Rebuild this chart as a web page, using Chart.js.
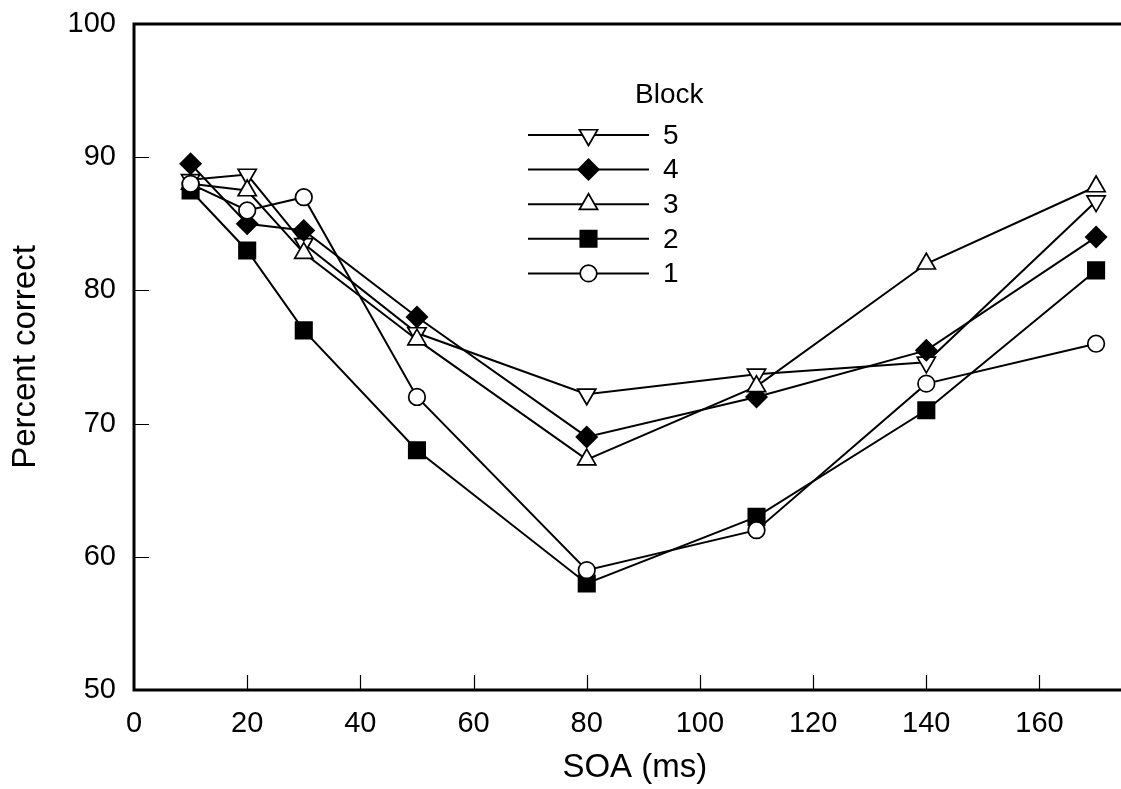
<!DOCTYPE html>
<html>
<head>
<meta charset="utf-8">
<script src="https://cdn.jsdelivr.net/npm/chart.js@4/dist/chart.umd.min.js"></script>
<style>
  html, body { margin: 0; padding: 0; background: #fff; overflow: hidden; width: 1121px; height: 789px; }
  #wrap { width: 1149px; height: 789px; position: relative; }
</style>
</head>
<body>
<div id="wrap"><canvas id="chart"></canvas></div>
<script>
// SOA values (ms) and percent correct for each practice block
const soa = [10, 20, 30, 50, 80, 110, 140, 170];
const block1 = [88, 86, 87, 72, 59, 62, 73, 76];
const block2 = [87.5, 83, 77, 68, 58, 63, 71, 81.5];
const block3 = [88, 87.5, 82.8, 76.3, 67.3, 72.8, 82, 87.8];
const block4 = [89.5, 85, 84.5, 78, 69, 72, 75.5, 84];
const block5 = [88.3, 88.7, 83.5, 76.8, 72.2, 73.7, 74.6, 86.7];

const xTicks = [0, 20, 40, 60, 80, 100, 120, 140, 160];
const yTicks = [50, 60, 70, 80, 90, 100];
const legendTitle = 'Block';

const FONT = '"Liberation Sans", Arial, Helvetica, sans-serif';

function pts(ys) { return soa.map((x, i) => ({ x: x, y: ys[i] })); }

function series(label, ys, style, radius, fill, rotation) {
  return {
    label: label,
    data: pts(ys),
    borderColor: '#000',
    borderWidth: 2,
    pointStyle: style,
    pointRadius: radius,
    pointHoverRadius: radius,
    pointRotation: rotation || 0,
    pointBackgroundColor: fill,
    pointBorderColor: '#000',
    pointBorderWidth: 1.7,
    tension: 0,
    fill: false,
    clip: false
  };
}

const datasets = [
  series('1', block1, 'circle', 8.3, '#fff'),
  series('2', block2, 'rect', 11.6, '#000'),
  series('3', block3, 'triangle', 10.5, '#fff'),
  series('4', block4, 'rectRot', 10.3, '#000'),
  series('5', block5, 'triangle', 10.5, '#fff', 180)
];

// Scales keep no extra room for edge labels, so the plot fills its box
function noPad(s) {
  s.paddingTop = 0; s.paddingBottom = 0; s.paddingLeft = 0; s.paddingRight = 0;
}

// Frame (left, top, bottom) and inward tick marks
const framePlugin = {
  id: 'frame',
  beforeDatasetsDraw(chart) {
    const { ctx, chartArea: a, scales } = chart;
    ctx.save();
    ctx.strokeStyle = '#000';
    ctx.lineWidth = 1.2;
    ctx.beginPath();
    xTicks.forEach(v => {
      if (v === scales.x.min) return;
      const px = Math.round(scales.x.getPixelForValue(v)) + 0.5;
      ctx.moveTo(px, a.bottom);
      ctx.lineTo(px, a.bottom - 15);
    });
    yTicks.forEach(v => {
      if (v === scales.y.min || v === scales.y.max) return;
      const py = Math.round(scales.y.getPixelForValue(v)) + 0.5;
      ctx.moveTo(a.left, py);
      ctx.lineTo(a.left + 15, py);
    });
    ctx.stroke();
    ctx.lineWidth = 3;
    ctx.beginPath();
    ctx.moveTo(a.left, a.top);
    ctx.lineTo(a.right, a.top);
    ctx.moveTo(a.left, a.top - 1.5);
    ctx.lineTo(a.left, a.bottom);
    ctx.moveTo(a.left - 1.5, a.bottom);
    ctx.lineTo(a.right, a.bottom);
    ctx.stroke();
    ctx.restore();
  }
};

// Legend with a line segment through each marker, block 5 at the top
const blockLegend = {
  id: 'blockLegend',
  afterDatasetsDraw(chart, args, opts) {
    const { ctx } = chart;
    ctx.save();
    ctx.fillStyle = '#000';
    ctx.font = opts.fontSize + 'px ' + FONT;
    ctx.textBaseline = 'middle';
    ctx.textAlign = 'left';
    ctx.fillText(legendTitle, opts.titleX, opts.titleY);
    const order = chart.data.datasets.map((d, i) => i).reverse();
    order.forEach((di, row) => {
      const ds = chart.data.datasets[di];
      const y = opts.firstRowY + row * opts.rowGap;
      ctx.strokeStyle = '#000';
      ctx.lineWidth = ds.borderWidth;
      ctx.beginPath();
      ctx.moveTo(opts.lineX0, y);
      ctx.lineTo(opts.lineX1, y);
      ctx.stroke();
      ctx.fillStyle = ds.pointBackgroundColor;
      ctx.strokeStyle = ds.pointBorderColor;
      ctx.lineWidth = ds.pointBorderWidth;
      Chart.helpers.drawPoint(ctx, {
        pointStyle: ds.pointStyle,
        radius: ds.pointRadius,
        rotation: ds.pointRotation,
        borderWidth: ds.pointBorderWidth
      }, (opts.lineX0 + opts.lineX1) / 2, y);
      ctx.fillStyle = '#000';
      ctx.fillText(ds.label, opts.labelX, y + 1);
    });
    ctx.restore();
  }
};

new Chart(document.getElementById('chart'), {
  type: 'line',
  data: { datasets: datasets },
  plugins: [framePlugin, blockLegend],
  options: {
    responsive: true,
    maintainAspectRatio: false,
    animation: false,
    events: [],
    layout: { padding: { top: 24, left: 0, right: 0, bottom: 0 } },
    plugins: {
      legend: { display: false },
      tooltip: { enabled: false },
      blockLegend: {
        fontSize: 28,
        titleX: 635, titleY: 95,
        firstRowY: 135, rowGap: 34.6,
        lineX0: 528, lineX1: 649,
        labelX: 663
      }
    },
    scales: {
      x: {
        type: 'linear',
        min: 0,
        max: 177,
        grid: { display: false, drawTicks: false },
        border: { display: false },
        afterBuildTicks: s => { s.ticks = xTicks.map(v => ({ value: v })); },
        afterFit: s => { s.height = 99; noPad(s); },
        ticks: {
          color: '#000',
          padding: 17,
          maxRotation: 0,
          font: { family: FONT, size: 29 }
        },
        title: {
          display: true,
          text: 'SOA (ms)',
          color: '#000',
          font: { family: FONT, size: 33 },
          padding: { top: 0, bottom: 1 }
        }
      },
      y: {
        type: 'linear',
        min: 50,
        max: 100,
        grid: { display: false, drawTicks: false },
        border: { display: false },
        afterBuildTicks: s => { s.ticks = yTicks.map(v => ({ value: v })); },
        afterFit: s => { s.width = 134; noPad(s); },
        ticks: {
          color: '#000',
          padding: 18,
          font: { family: FONT, size: 29 }
        },
        title: {
          display: true,
          text: 'Percent correct',
          color: '#000',
          font: { family: FONT, size: 33 },
          padding: { top: 6, bottom: 0 }
        }
      }
    }
  }
});
</script>
</body>
</html>
